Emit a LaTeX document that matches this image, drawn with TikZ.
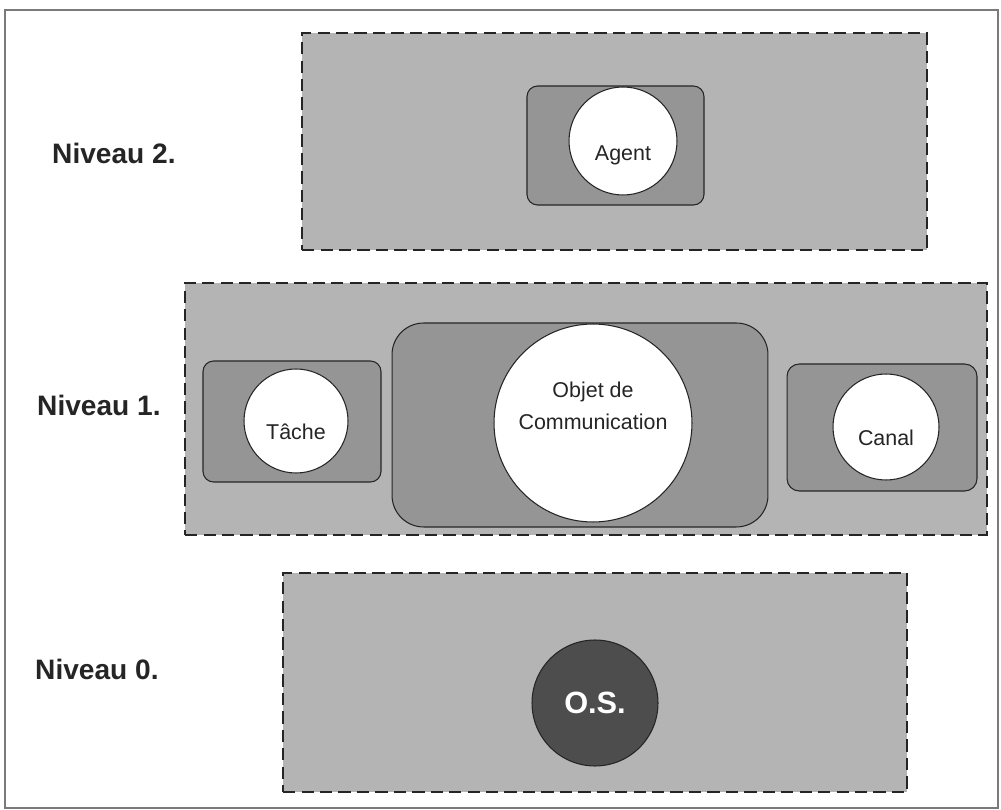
\documentclass[tikz,border=0pt]{standalone}
\usepackage{fontspec}
\setmainfont{Liberation Sans}
\usepackage{xcolor}
\usepackage{tikz}
\usetikzlibrary{positioning,calc}
\definecolor{cLevel}{HTML}{B4B4B4}
\definecolor{cHull} {HTML}{959595}
\definecolor{cCore} {HTML}{4D4D4D}
\definecolor{cInk}  {HTML}{252525}
\definecolor{cFrame}{HTML}{7A7A7A}
\tikzset{
  slevel/.style={draw=cInk,fill=cLevel,line width=0.8pt,
                 dash pattern=on 7pt off 3.5pt,inner sep=0pt},
  shull/.style ={draw=cInk,fill=cHull,line width=0.6pt,inner sep=0pt},
  sobj/.style  ={circle,draw=cInk,fill=white,line width=0.6pt,inner sep=0pt},
  score/.style ={circle,draw=cInk,fill=cCore,line width=0.6pt,inner sep=0pt},
  stxt/.style  ={font=\fontsize{12.2}{15}\selectfont,text=cInk,align=center},
  sniv/.style  ={font=\fontsize{16}{19}\selectfont\bfseries,text=cInk,anchor=west},
}
\begin{document}
\begin{tikzpicture}[x=0.02cm,y=-0.02cm]
    \useasboundingbox (0,0) rectangle (1001,810);
    \draw[cFrame,line width=1.2pt] (5,10) rectangle (998,808);
    % niveau 2
    \node[slevel,minimum width=12.5cm,minimum height=4.34cm] (n2) at (614.5,141.5) {};
    \node[shull,rounded corners=6pt,minimum width=3.54cm,minimum height=2.38cm] (ha) at (615.5,145.5) {};
    \node[sobj,minimum size=2.16cm] (agent) at (623,141) {};
    \node[stxt] (tagent) at ([yshift=-0.28cm]agent.center) {Agent};
    \node[sniv] (l2) at (46,153) {Niveau 2.};
    % niveau 1
    \node[slevel,minimum width=16.04cm,minimum height=5.04cm] (n1) at (586,409) {};
    \node[shull,rounded corners=6pt,minimum width=3.56cm,minimum height=2.42cm] (ht) at (292,421.5) {};
    \node[sobj,minimum size=2.08cm] (tache) at (296,421) {};
    \node[stxt] (ttache) at ([yshift=-0.22cm]tache.center) {Tâche};
    \node[shull,rounded corners=18pt,minimum width=7.52cm,minimum height=4.08cm] (ho) at (580,425) {};
    \node[sobj,minimum size=3.96cm] (objet) at (593,423) {};
    \node[stxt] (tobjet) at ([yshift=0.34cm]objet.center) {Objet de\\[3pt]Communication};
    \node[shull,rounded corners=7pt,minimum width=3.8cm,minimum height=2.54cm] (hc) at (882,427.5) {};
    \node[sobj,minimum size=2.12cm] (canal) at (886,427) {};
    \node[stxt] (tcanal) at ([yshift=-0.22cm]canal.center) {Canal};
    \node[sniv] (l1) at (31,405) {Niveau 1.};
    % niveau 0
    \node[slevel,minimum width=12.48cm,minimum height=4.38cm] (n0) at (595,682.5) {};
    \node[score,minimum size=2.52cm] (os) at (595,703) {};
    \node[font=\fontsize{17.5}{20}\selectfont\bfseries,text=white] (tos) at (os.center) {O.S.};
    \node[sniv] (l0) at (29,669) {Niveau 0.};
  \end{tikzpicture}
\end{document}
